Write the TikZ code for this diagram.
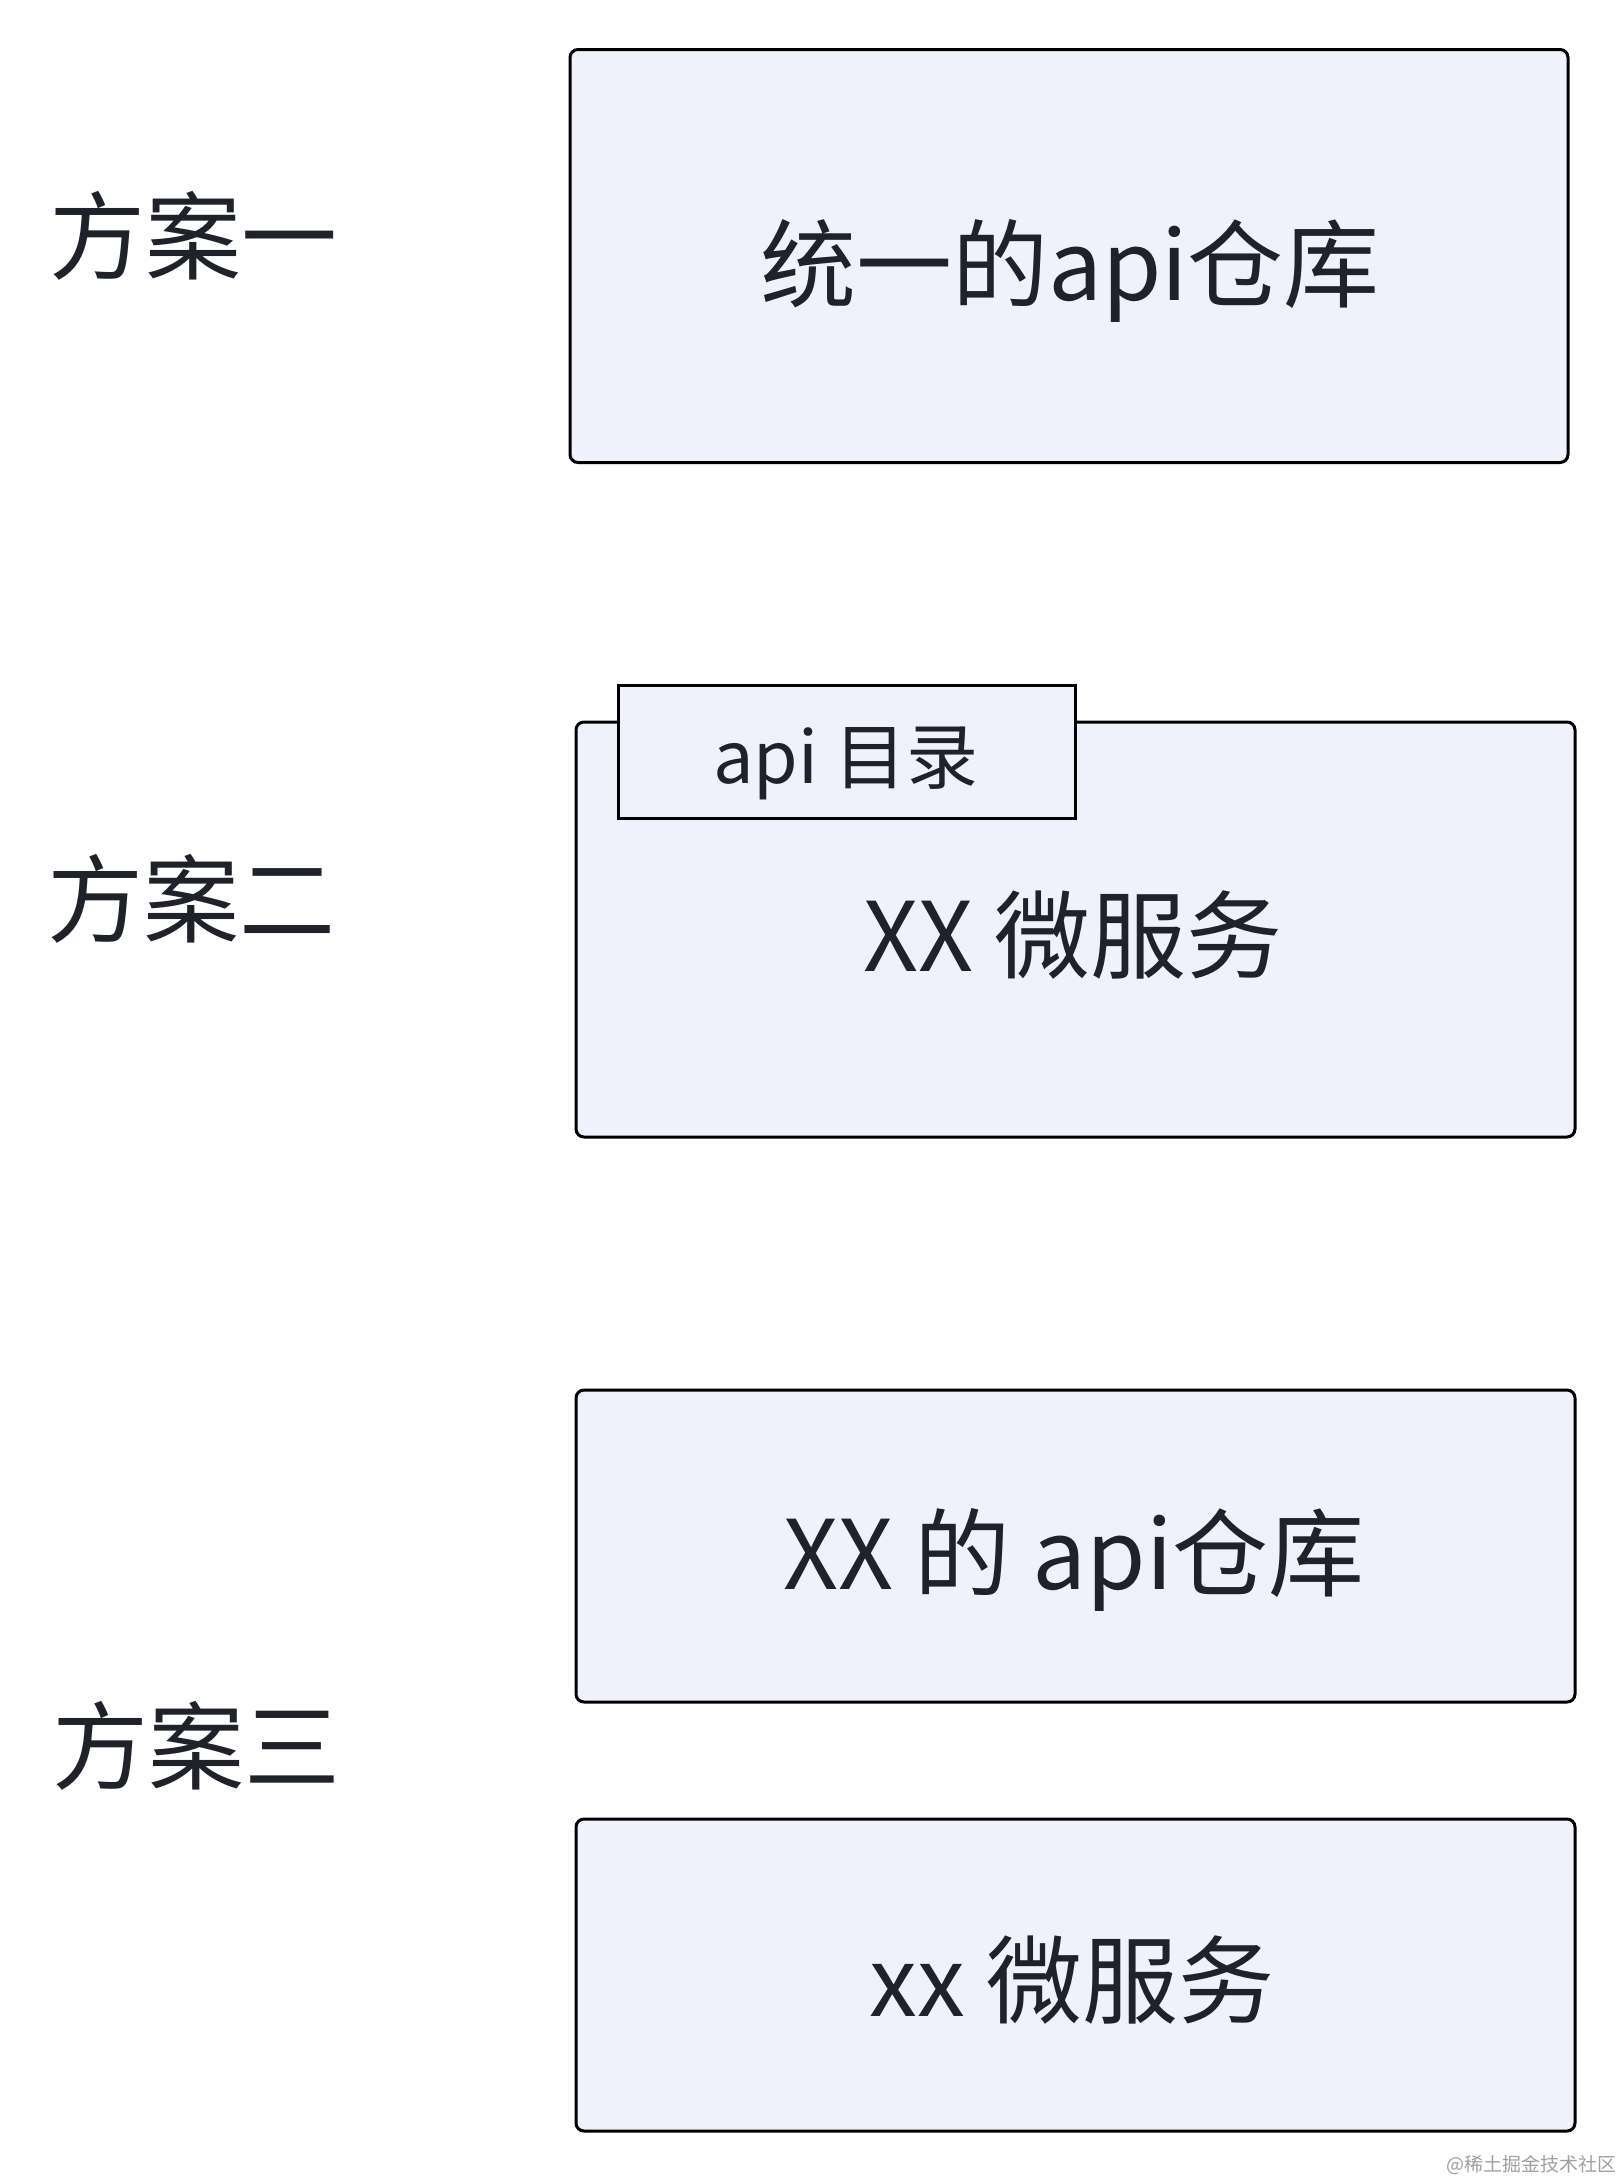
\documentclass[tikz,border=0pt]{standalone}
\usepackage{fontspec}
\setmainfont{Noto Sans CJK SC}
\definecolor{boxfill}{HTML}{EFF2FA}
\definecolor{txt}{HTML}{1F2329}
\definecolor{wm}{HTML}{A0A0A0}
\begin{document}
\begin{tikzpicture}[x=0.5pt,y=-0.5pt,
  box/.style={draw=black, line width=1.5pt, fill=boxfill, rounded corners=4pt, inner sep=0pt},
  tabbox/.style={draw=black, line width=1.5pt, fill=boxfill, inner sep=0pt},
  lbl/.style={text=txt, inner sep=0pt, font=\fontsize{48}{56}\selectfont},
  tabtxt/.style={text=txt, inner sep=0pt, font=\fontsize{36}{44}\selectfont},
]
\useasboundingbox[fill=white] (0,0) rectangle (1622,2180);
% labels
\node[lbl] (l1) at (193,236) {方案一};
\node[lbl] (l2) at (191,899) {方案二};
\node[lbl] (l3) at (197,1746) {方案三};
% plan 1
\node[box, minimum width=499pt, minimum height=206.5pt] (b1) at (1069,256) {};
\node[lbl] (b1t) at (1070,271) {统一的api仓库};
% plan 2
\node[box, minimum width=499.5pt, minimum height=207.5pt] (b2) at (1075.5,929.5) {};
\node[lbl] (b2t) at (1073,935) {XX 微服务};
\node[tabbox, minimum width=228.5pt, minimum height=66.5pt] (tab) at (846.5,751.5) {};
\node[tabtxt] (tabt) at (846,763) {api 目录};
% plan 3
\node[box, minimum width=499.5pt, minimum height=156pt] (b3) at (1075.5,1546) {};
\node[lbl] (b3t) at (1074,1560) {XX 的 api仓库};
\node[box, minimum width=499.5pt, minimum height=156pt] (b4) at (1075.5,1975) {};
\node[lbl] (b4t) at (1072,1980) {xx 微服务};
% watermark
\node[text=wm, inner sep=0pt, font=\fontsize{9.5}{11}\selectfont, anchor=east] (wm) at (1617,2165) {@稀土掘金技术社区};
\end{tikzpicture}
\end{document}
